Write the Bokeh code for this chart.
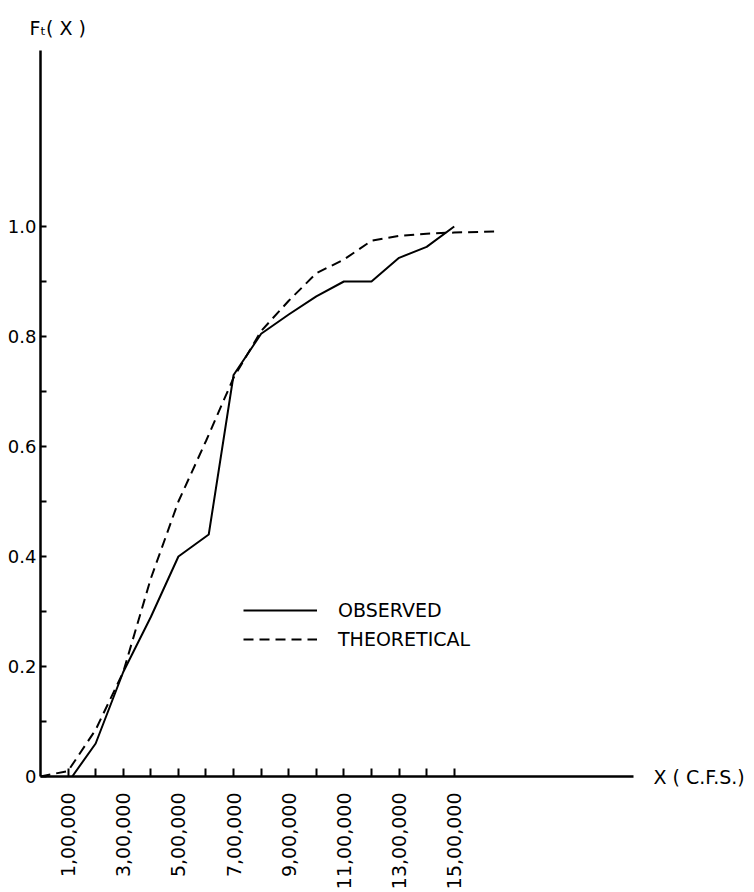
import math
from bokeh.plotting import figure
from bokeh.models import FixedTicker, Legend, LegendItem, Range1d, LinearAxis
from bokeh.embed import file_html
from bokeh.resources import INLINE

# ---- data (x in units of 1,00,000 c.f.s.) ----
obs_x = [1.15, 2, 3, 4, 5, 6.1, 7, 8, 9, 10, 11, 12, 13, 14, 15]
obs_y = [0.0, 0.06, 0.19, 0.29, 0.40, 0.44, 0.73, 0.805, 0.84, 0.873, 0.90, 0.90, 0.943, 0.963, 1.0]

theo_x = [0, 1, 2, 3, 4, 5, 6, 7, 8, 9, 10, 11, 12, 13, 14, 15, 16.5]
theo_y = [0.0, 0.01, 0.085, 0.19, 0.36, 0.50, 0.61, 0.725, 0.81, 0.865, 0.915, 0.94, 0.974, 0.983, 0.987, 0.989, 0.991]

x_ticks = list(range(1, 16))
x_tick_labels = {1: "1,00,000", 3: "3,00,000", 5: "5,00,000", 7: "7,00,000",
                 9: "9,00,000", 11: "11,00,000", 13: "13,00,000", 15: "15,00,000"}
y_ticks = [0.1, 0.2, 0.3, 0.4, 0.5, 0.6, 0.7, 0.8, 0.9, 1.0]
y_tick_labels = {0.2: "0.2", 0.4: "0.4", 0.6: "0.6", 0.8: "0.8", 1.0: "1.0"}

y_title = "F\u209c( X )"
x_title = "X ( C.F.S.)"

FONT = "DejaVu Sans"

p = figure(width=754, height=892, output_backend="svg", toolbar_location=None,
           x_range=Range1d(0, 21.5), y_range=Range1d(0, 1.32),
           min_border_left=40, min_border_right=121, min_border_top=50, min_border_bottom=114)
p.outline_line_color = None
p.xgrid.visible = False
p.ygrid.visible = False
p.background_fill_color = "white"
p.border_fill_color = "white"

# title used as the y-axis name F_t(X), top-left
p.title.text = y_title
p.title.align = "left"
p.title.offset = -11
p.title.standoff = 24
p.title.text_font = FONT
p.title.text_font_size = "19px"
p.title.text_font_style = "normal"
p.title.text_color = "black"

# axes
xa = p.xaxis[0]
xa.ticker = FixedTicker(ticks=x_ticks)
xa.major_label_overrides = {k: x_tick_labels.get(k, "") for k in x_ticks}
xa.major_label_orientation = math.pi / 2
xa.major_label_text_font = FONT
xa.major_label_text_font_size = "19px"
xa.major_label_text_color = "black"
xa.major_label_standoff = 16
xa.major_tick_in = 8
xa.major_tick_out = 0
xa.minor_tick_line_color = None
xa.axis_line_width = 2.5
xa.axis_line_color = "black"
xa.major_tick_line_width = 2
xa.major_tick_line_color = "black"

ya = p.yaxis[0]
ya.ticker = FixedTicker(ticks=[0.0] + y_ticks)
ov = {0.0: "0"}
for t in y_ticks:
    ov[t] = y_tick_labels.get(t, "")
ya.major_label_overrides = ov
ya.major_label_text_font = FONT
ya.major_label_text_font_size = "18px"
ya.major_label_text_color = "black"
ya.major_label_standoff = 4
ya.major_tick_in = 6
ya.major_tick_out = 0
ya.minor_tick_line_color = None
ya.axis_line_width = 2.5
ya.axis_line_color = "black"
ya.major_tick_line_width = 2
ya.major_tick_line_color = "black"

# right-hand axis carrying only the x-axis name at the end of the x axis line
ra = LinearAxis(ticker=FixedTicker(ticks=[0.0]), major_label_overrides={0.0: x_title})
ra.axis_line_color = None
ra.major_tick_line_color = None
ra.minor_tick_line_color = None
ra.major_tick_in = 0
ra.major_tick_out = 0
ra.major_label_standoff = 20
ra.major_label_text_font = FONT
ra.major_label_text_font_size = "19px"
ra.major_label_text_color = "black"
p.add_layout(ra, "right")

# curves
r_obs = p.line(obs_x, obs_y, line_color="black", line_width=2)
r_theo = p.line(theo_x, theo_y, line_color="black", line_width=2, line_dash="10 6")

legend = Legend(items=[LegendItem(label="OBSERVED", renderers=[r_obs]),
                       LegendItem(label="THEORETICAL", renderers=[r_theo])],
                location=(203, 126), border_line_color=None, background_fill_alpha=0,
                padding=0, margin=0, spacing=7, glyph_width=74, glyph_height=20,
                label_height=20, label_standoff=21,
                label_text_font=FONT, label_text_font_size="19px", label_text_color="black")
p.add_layout(legend, "center")

open("out.html", "w").write(file_html(p, INLINE))
